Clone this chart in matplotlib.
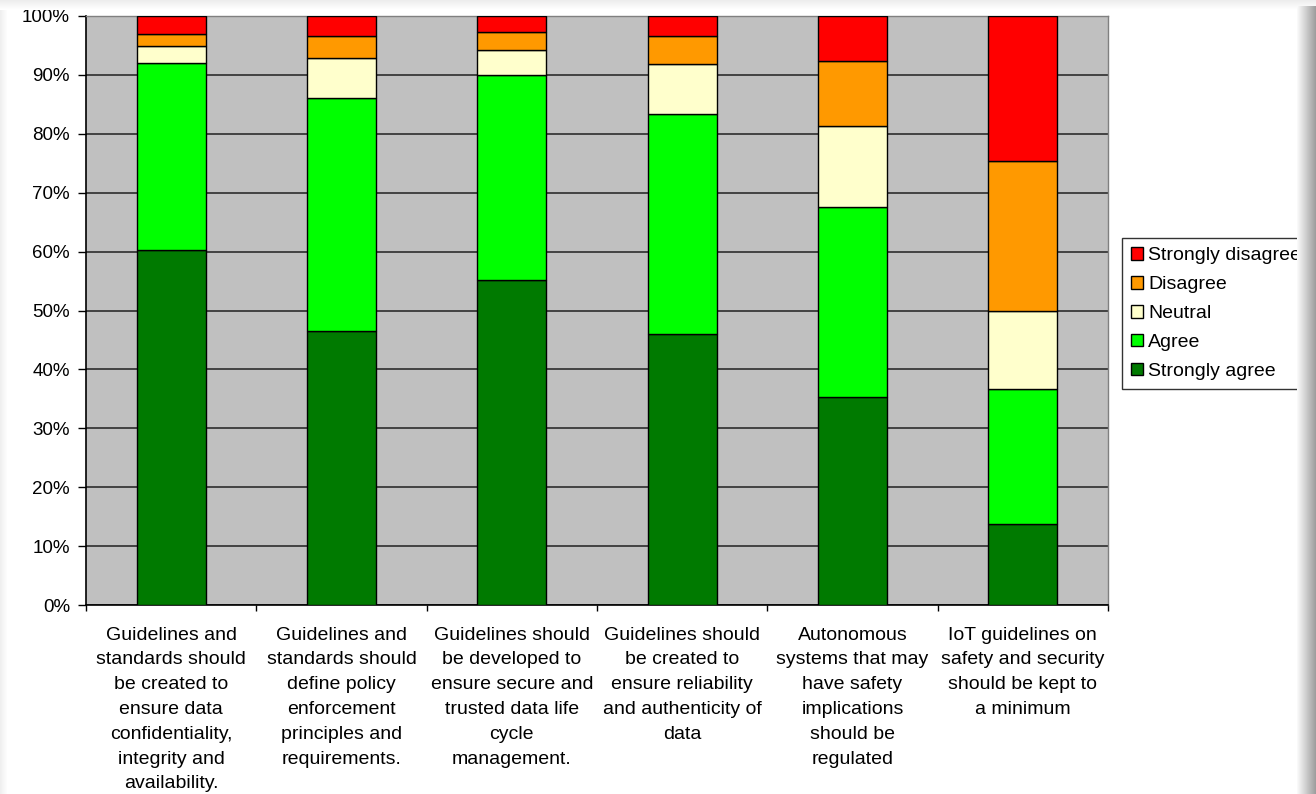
import matplotlib
matplotlib.use('Agg')
import matplotlib.pyplot as plt
import numpy as np
from matplotlib.patches import Patch

plt.rcParams['font.family'] = ['Liberation Sans', 'DejaVu Sans']

statements = ['Guidelines and\nstandards should\nbe created to\nensure data\nconfidentiality,\nintegrity and\navailability.',
              'Guidelines and\nstandards should\ndefine policy\nenforcement\nprinciples and\nrequirements.',
              'Guidelines should\nbe developed to\nensure secure and\ntrusted data life\ncycle\nmanagement.',
              'Guidelines should\nbe created to\nensure reliability\nand authenticity of\ndata',
              'Autonomous\nsystems that may\nhave safety\nimplications\nshould be\nregulated',
              'IoT guidelines on\nsafety and security\nshould be kept to\na minimum']

# answer shares in percent, one value per statement
strongly_agree = [60.3, 46.5, 55.1, 46.0, 35.3, 13.8]
agree = [31.7, 39.5, 34.8, 37.4, 32.3, 22.9]
neutral = [2.9, 6.8, 4.4, 8.4, 13.8, 13.2]
disagree = [2.0, 3.8, 2.9, 4.8, 11.0, 25.5]
strongly_disagree = [3.1, 3.4, 2.8, 3.4, 7.6, 24.6]

answers = ['Strongly agree', 'Agree', 'Neutral', 'Disagree', 'Strongly disagree']
colors = ['#007A00', '#00FF00', '#FFFFCC', '#FF9900', '#FF0000']
series = [strongly_agree, agree, neutral, disagree, strongly_disagree]

W, H = 1316, 794
fig = plt.figure(figsize=(W / 100, H / 100), dpi=100)
fig.patch.set_facecolor('white')

ax = fig.add_axes([86 / W, 1 - 605 / H, 1022 / W, 589 / H])
ax.set_facecolor('#C0C0C0')

x = np.arange(len(statements))
bottom = np.zeros(len(statements))
for vals, col in zip(series, colors):
    ax.bar(x, vals, width=0.405, bottom=bottom, color=col, edgecolor='black',
           linewidth=1.0, zorder=3)
    bottom += np.array(vals)

ax.set_xlim(-0.5, len(statements) - 0.5)
ax.set_ylim(0, 100)
ax.set_yticks(np.arange(0, 101, 10))
ax.set_yticklabels(['%d%%' % v for v in range(0, 101, 10)], fontsize=13.5)
ax.yaxis.grid(True, color='#202020', linewidth=1.1, zorder=1)
ax.set_axisbelow(True)
ax.tick_params(axis='y', length=6, width=1, pad=5.5, colors='black')

# labels under each bar, tick marks between categories
ax.set_xticks(x)
ax.set_xticklabels(statements, fontsize=14, linespacing=1.6)
ax.tick_params(axis='x', which='major', length=0, pad=15.5)
ax.set_xticks(np.arange(-0.5, len(statements)), minor=True)
ax.tick_params(axis='x', which='minor', length=4, width=1, direction='out')

for side in ['left', 'bottom']:
    ax.spines[side].set_color('black')
    ax.spines[side].set_linewidth(1.2)
for side in ['top', 'right']:
    ax.spines[side].set_color('#808080')
    ax.spines[side].set_linewidth(1.0)

handles = [Patch(facecolor=c, edgecolor='black', linewidth=1.0) for c in colors[::-1]]
leg = fig.legend(handles, answers[::-1], loc='upper left',
                 bbox_to_anchor=(1122 / W, 1 - 238 / H), fontsize=14,
                 frameon=True, fancybox=False, borderaxespad=0, borderpad=0.48,
                 handlelength=0.58, handleheight=0.62, handletextpad=0.3,
                 labelspacing=0.6)
leg.get_frame().set_edgecolor('black')
leg.get_frame().set_linewidth(1.0)

# page edge: light band on top/left, drop shadow on the right
top = fig.add_axes([0, 1 - 10 / H, 1, 10 / H], zorder=10)
g = np.linspace(0.93, 1.0, 10)[:, None, None] * np.ones((10, 2, 3))
top.imshow(g, aspect='auto', extent=(0, 1, 0, 1))
top.axis('off')

left = fig.add_axes([0, 0, 8 / W, 1 - 10 / H], zorder=10)
g = np.linspace(0.94, 1.0, 8)[None, :, None] * np.ones((2, 8, 3))
left.imshow(g, aspect='auto', extent=(0, 1, 0, 1))
left.axis('off')

shade = fig.add_axes([1297 / W, 0, 19 / W, 1 - 6 / H], zorder=10)
g = np.linspace(0.98, 0.62, 19)[None, :, None] * np.ones((2, 19, 3))
shade.imshow(g, aspect='auto', extent=(0, 1, 0, 1))
shade.axis('off')

fig.savefig('out.png', dpi=100, facecolor=fig.get_facecolor())
